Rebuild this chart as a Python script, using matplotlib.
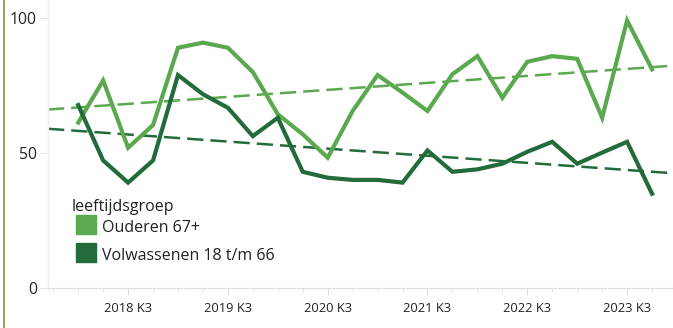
import numpy as np
import matplotlib
matplotlib.use("Agg")
import matplotlib.pyplot as plt
from matplotlib.patches import Rectangle
from matplotlib.lines import Line2D

plt.rcParams["font.family"] = ["Open Sans", "DejaVu Sans"]

# Quarterly series, 2018 K1 .. 2023 K4
quarters = [f"{y} K{q}" for y in range(2018, 2024) for q in range(1, 5)]
ouderen = [61.2, 76.8, 51.9, 60.3, 88.9, 90.8, 88.9, 79.9, 64.3, 56.9, 48.2, 65.5,
           78.8, 72.3, 65.5, 79.1, 85.8, 70.4, 83.7, 85.8, 84.8, 63.0, 99.0, 80.9]
volwassenen = [67.7, 47.2, 39.0, 47.2, 78.8, 71.7, 66.7, 56.2, 63.0, 43.0, 40.8, 40.0,
               40.0, 39.0, 50.9, 43.0, 43.9, 46.0, 50.4, 54.1, 46.0, 50.1, 54.1, 34.9]
series_names = ["Ouderen 67+", "Volwassenen 18 t/m 66"]
colors = ["#5BA94F", "#236B3B"]
legend_title = "leeftijdsgroep"
y_ticks = [0, 50, 100]

W, H = 673, 328
fig = plt.figure(figsize=(W / 100, H / 100), dpi=100)
ax = fig.add_axes([48 / W, 40 / H, 625 / W, 287 / H])

x = np.arange(len(quarters))
xlim = (-1.21, 23.84)
xt = np.linspace(xlim[0], xlim[1], 50)

for vals, col in zip([ouderen, volwassenen], colors):
    ax.plot(x, vals, color=col, lw=3.0, solid_joinstyle="miter", zorder=3)
    slope, icpt = np.polyfit(x, vals, 1)
    ax.plot(xt, slope * xt + icpt, color=col, lw=1.8, dashes=(6.5, 2.8), zorder=2)

ax.set_xlim(*xlim)
ax.set_ylim(0, 106.2)

# x axis: label every third quarter of each year
major = [i for i, q in enumerate(quarters) if q.endswith("K3")]
ax.set_xticks(major)
ax.set_xticklabels([quarters[i] for i in major], fontsize=9.3, color="#222222")
ax.set_xticks(np.arange(-1, len(quarters)), minor=True)
ax.tick_params(axis="x", which="both", length=3, color="#dddddd", pad=5)
ax.tick_params(axis="x", which="major", length=5)

ax.set_yticks(y_ticks)
ax.set_yticklabels([str(v) for v in y_ticks], fontsize=11.3, color="#222222")
ax.tick_params(axis="y", length=6, color="#e6e6e6", pad=2)

for s in ["top", "right"]:
    ax.spines[s].set_visible(False)
ax.spines["left"].set_color("#eeeeee")
ax.spines["left"].set_linewidth(1.0)
ax.spines["bottom"].set_color("#d9d9d9")
ax.spines["bottom"].set_linestyle((0, (2, 1.5)))
ax.spines["bottom"].set_linewidth(0.8)

# legend block
def fx(px):
    return px / W

def fy(py):
    return 1 - py / H

fig.text(fx(72), fy(207), legend_title, fontsize=11.5, va="center", ha="left", color="#222222")
for k, (name, col) in enumerate(zip(series_names, colors)):
    top = 215 + k * 28
    fig.patches.append(Rectangle((fx(76), fy(top + 18.5)), 20 / W, 18.5 / H,
                                 transform=fig.transFigure, color=col))
    fig.text(fx(102), fy(top + 13), name, fontsize=11.5, va="center", ha="left", color="#222222")

# left frame accent
fig.add_artist(Line2D([fx(3.5), fx(3.5)], [0, 1], transform=fig.transFigure,
                      color="#7F9A36", lw=1.2))

fig.savefig("out.png", dpi=100)
